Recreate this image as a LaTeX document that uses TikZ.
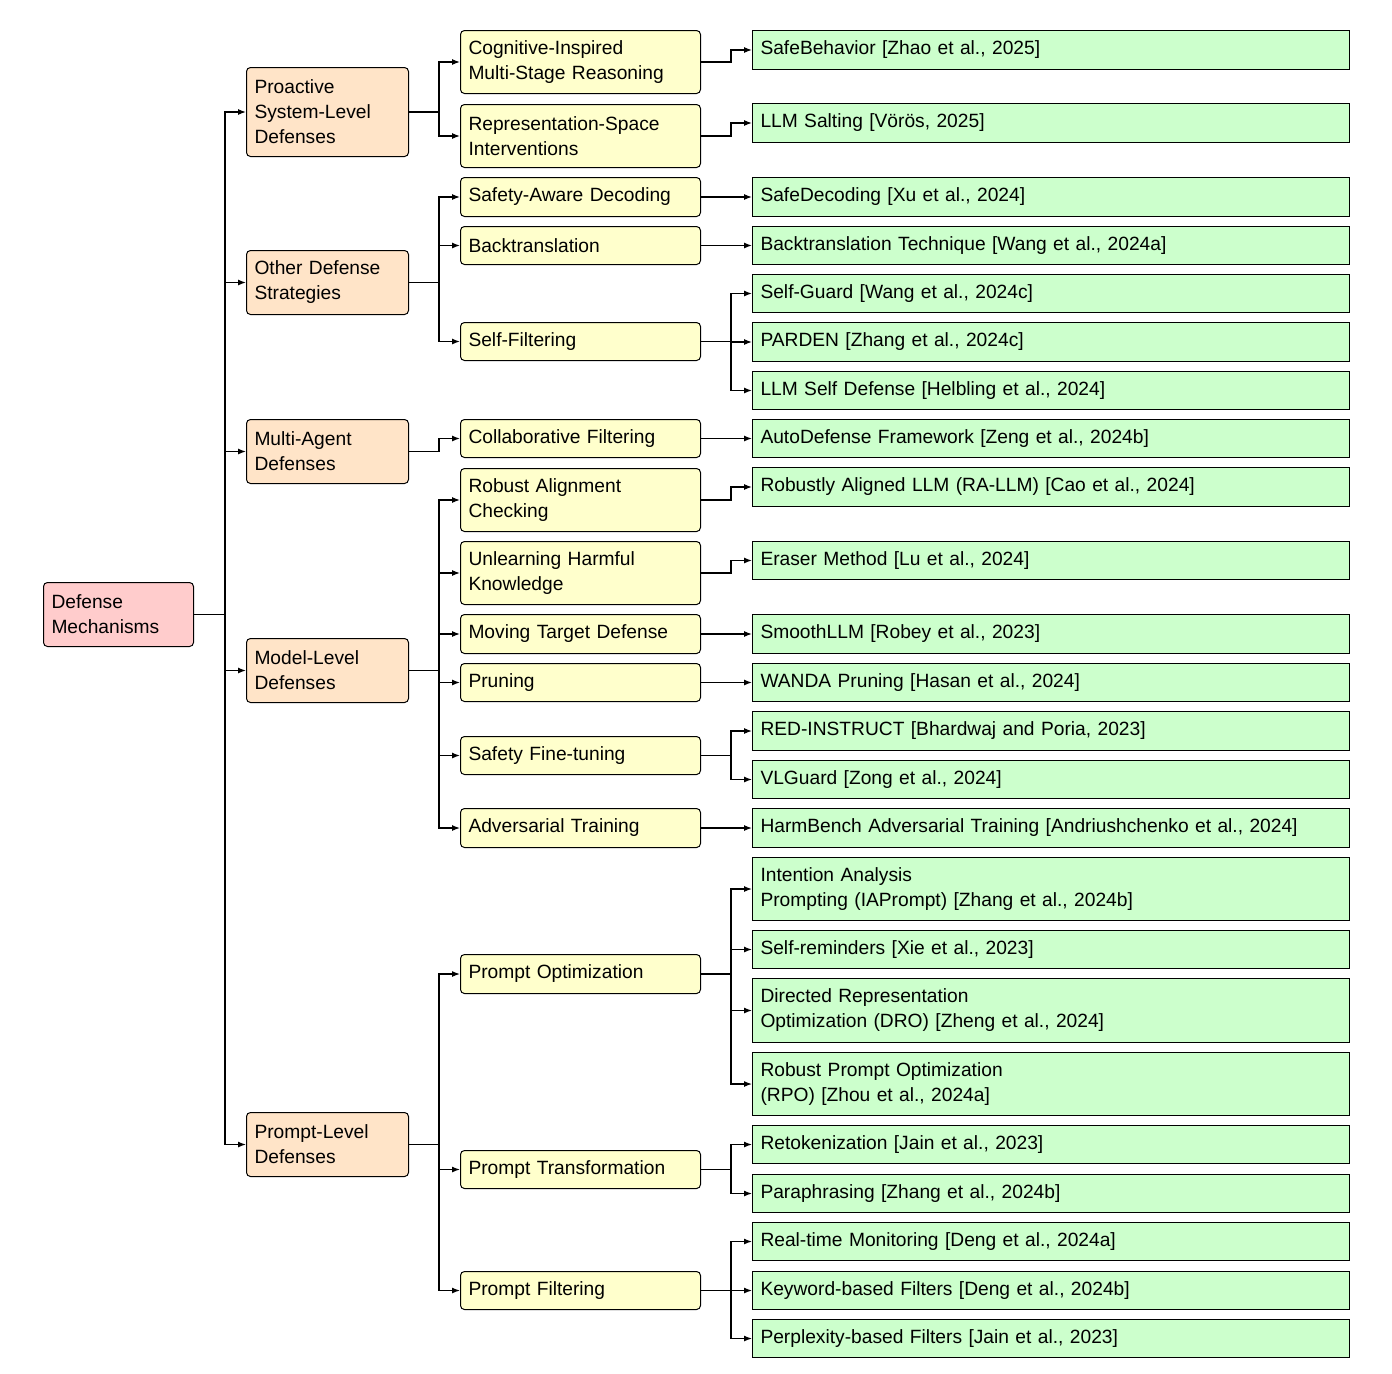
\documentclass[tikz,border=0pt]{standalone}
\usepackage{fontspec}
\setmainfont{Liberation Sans}
\usetikzlibrary{arrows.meta}
\begin{document}
\definecolor{cR}{RGB}{255,204,204}
\definecolor{cA}{RGB}{255,228,200}
\definecolor{cB}{RGB}{255,255,204}
\definecolor{cC}{RGB}{204,255,204}
\tikzset{
 box/.style={draw=black,line width=0.5pt,anchor=north west,inner sep=0pt,inner xsep=4pt,align=left,font=\fontsize{9.6}{12.5}\selectfont},
 r0/.style={box,fill=cR,rounded corners=2pt,minimum width=75pt,text width=67pt},
 r1/.style={box,fill=cA,rounded corners=2pt,minimum width=81pt,text width=73pt},
 r2/.style={box,fill=cB,rounded corners=2pt,minimum width=120pt,text width=112pt},
 r3/.style={box,fill=cC,minimum width=298.5pt,text width=290.5pt},
 conn/.style={draw,line width=0.6pt,-{Latex[length=4pt,width=3pt]}},
}
\newcommand\N[6]{\node[#1,minimum height=#5*0.5pt] (#2) at (#3,#4) {#6};}
\begin{tikzpicture}[x=0.5pt,y=-0.5pt]
\useasboundingbox (0,0) rectangle (1392,1373);
\N{r0}{root}{43}{582}{64}{Defense\\Mechanisms}
\N{r1}{a1}{246}{67}{89}{Proactive\\System-Level\\Defenses}
\N{r1}{a2}{246}{250}{64}{Other Defense\\Strategies}
\N{r1}{a3}{246}{419}{64}{Multi-Agent\\Defenses}
\N{r1}{a4}{246}{638}{64}{Model-Level\\Defenses}
\N{r1}{a5}{246}{1112}{64}{Prompt-Level\\Defenses}
\N{r2}{b1}{460}{30}{63}{Cognitive-Inspired\\Multi-Stage Reasoning}
\N{r2}{b2}{460}{104}{63}{Representation-Space\\Interventions}
\N{r2}{b3}{460}{177}{39}{Safety-Aware Decoding}
\N{r2}{b4}{460}{226}{38}{Backtranslation}
\N{r2}{b5}{460}{322}{38}{Self-Filtering}
\N{r2}{b6}{460}{419}{38}{Collaborative Filtering}
\N{r2}{b7}{460}{468}{63}{Robust Alignment\\Checking}
\N{r2}{b8}{460}{541}{63}{Unlearning Harmful\\Knowledge}
\N{r2}{b9}{460}{614}{39}{Moving Target Defense}
\N{r2}{b10}{460}{663}{38}{Pruning}
\N{r2}{b11}{460}{736}{38}{Safety Fine-tuning}
\N{r2}{b12}{460}{808}{39}{Adversarial Training}
\N{r2}{b13}{460}{954}{39}{Prompt Optimization}
\N{r2}{b14}{460}{1150}{38}{Prompt Transformation}
\N{r2}{b15}{460}{1271}{38}{Prompt Filtering}
\N{r3}{c1}{752}{30}{39}{SafeBehavior [Zhao et al., 2025]}
\N{r3}{c2}{752}{103}{39}{LLM Salting [Vörös, 2025]}
\N{r3}{c3}{752}{177}{39}{SafeDecoding [Xu et al., 2024]}
\N{r3}{c4}{752}{226}{38}{Backtranslation Technique [Wang et al., 2024a]}
\N{r3}{c5}{752}{274}{38}{Self-Guard [Wang et al., 2024c]}
\N{r3}{c6}{752}{322}{39}{PARDEN [Zhang et al., 2024c]}
\N{r3}{c7}{752}{371}{38}{LLM Self Defense [Helbling et al., 2024]}
\N{r3}{c8}{752}{419}{38}{AutoDefense Framework [Zeng et al., 2024b]}
\N{r3}{c9}{752}{467}{39}{Robustly Aligned LLM (RA-LLM) [Cao et al., 2024]}
\N{r3}{c10}{752}{541}{38}{Eraser Method [Lu et al., 2024]}
\N{r3}{c11}{752}{614}{39}{SmoothLLM [Robey et al., 2023]}
\N{r3}{c12}{752}{663}{38}{WANDA Pruning [Hasan et al., 2024]}
\N{r3}{c13}{752}{711}{39}{RED-INSTRUCT [Bhardwaj and Poria, 2023]}
\N{r3}{c14}{752}{760}{38}{VLGuard [Zong et al., 2024]}
\N{r3}{c15}{752}{808}{39}{HarmBench Adversarial Training [Andriushchenko et al., 2024]}
\N{r3}{c16}{752}{857}{63}{Intention Analysis\\Prompting (IAPrompt) [Zhang et al., 2024b]}
\N{r3}{c17}{752}{930}{38}{Self-reminders [Xie et al., 2023]}
\N{r3}{c18}{752}{978}{64}{Directed Representation\\Optimization (DRO) [Zheng et al., 2024]}
\N{r3}{c19}{752}{1052}{63}{Robust Prompt Optimization\\(RPO) [Zhou et al., 2024a]}
\N{r3}{c20}{752}{1125}{38}{Retokenization [Jain et al., 2023]}
\N{r3}{c21}{752}{1174}{38}{Paraphrasing [Zhang et al., 2024b]}
\N{r3}{c22}{752}{1222}{38}{Real-time Monitoring [Deng et al., 2024a]}
\N{r3}{c23}{752}{1271}{38}{Keyword-based Filters [Deng et al., 2024b]}
\N{r3}{c24}{752}{1319}{38}{Perplexity-based Filters [Jain et al., 2023]}
\foreach \c in {a1,a2,a3,a4,a5} \draw[conn] (root.east) -- ++(31,0) |- (\c.west);
\foreach \p/\c in {a1/b1,a1/b2,a2/b3,a2/b4,a2/b5,a3/b6,a4/b7,a4/b8,a4/b9,a4/b10,a4/b11,a4/b12,a5/b13,a5/b14,a5/b15}
  \draw[conn] (\p.east) -- ++(30,0) |- (\c.west);
\foreach \p/\c in {b1/c1,b2/c2,b3/c3,b4/c4,b5/c5,b5/c6,b5/c7,b6/c8,b7/c9,b8/c10,b9/c11,b10/c12,b11/c13,b11/c14,b12/c15,b13/c16,b13/c17,b13/c18,b13/c19,b14/c20,b14/c21,b15/c22,b15/c23,b15/c24}
  \draw[conn] (\p.east) -- ++(30,0) |- (\c.west);
\end{tikzpicture}
\end{document}
